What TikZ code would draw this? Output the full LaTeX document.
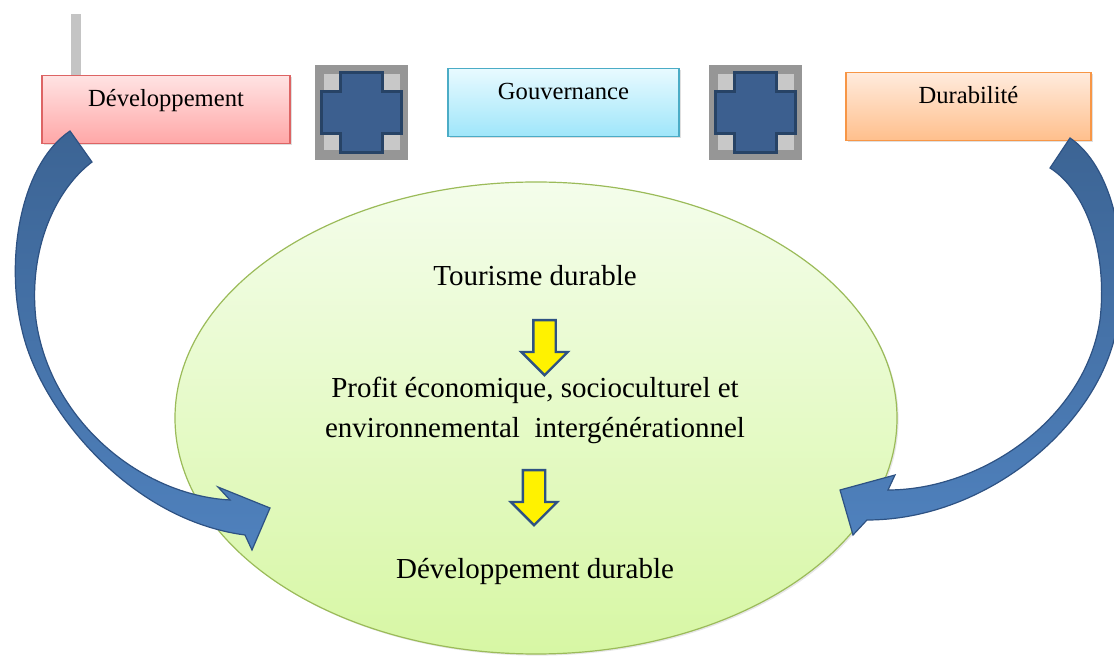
\documentclass[tikz,border=0pt]{standalone}
\usepackage{fontspec}
\setmainfont{Liberation Serif}
\usetikzlibrary{shapes.geometric,shapes.arrows,shadows}
\definecolor{bargray}{HTML}{C4C4C4}
\definecolor{devtop}{HTML}{FFE3E3}
\definecolor{devbot}{HTML}{FFA7A7}
\definecolor{devline}{HTML}{DD6464}
\definecolor{gouvtop}{HTML}{E8FAFF}
\definecolor{gouvbot}{HTML}{9FE6FA}
\definecolor{gouvline}{HTML}{4BACC6}
\definecolor{durtop}{HTML}{FFEBDD}
\definecolor{durbot}{HTML}{FFBF8C}
\definecolor{durline}{HTML}{F79646}
\definecolor{plusouter}{HTML}{969696}
\definecolor{plusinner}{HTML}{C8C8C8}
\definecolor{plusfill}{HTML}{3C5F8F}
\definecolor{plusline}{HTML}{274366}
\definecolor{ovaltop}{HTML}{F4FDEB}
\definecolor{ovalbot}{HTML}{D7F7A4}
\definecolor{ovalline}{HTML}{9BBB59}
\definecolor{arrdark}{HTML}{3C6494}
\definecolor{arrlight}{HTML}{4F81BD}
\definecolor{arrline}{HTML}{2E5283}

\begin{document}
\begin{tikzpicture}[x=0.5pt,y=-0.5pt]
    \tikzstyle{topbox}=[draw, line width=0.6pt, anchor=north, inner sep=0pt,
        text height=15.5pt, text depth=18.5pt,
        font=\fontsize{12.3}{15}\selectfont,
        drop shadow={shadow xshift=0.8pt, shadow yshift=-0.8pt, opacity=0.25}]
    \tikzstyle{plusbox}=[fill=plusouter, minimum width=46.5pt, minimum height=47.5pt, inner sep=0pt,
        path picture={
            \begin{scope}[shift={(path picture bounding box.center)}]
                \fill[plusinner] (-38,-38) rectangle (38,38);
                \draw[fill=plusfill, draw=plusline, line width=1.4pt]
                    (-21,-40) -- (21,-40) -- (21,-21) -- (40,-21) -- (40,21) -- (21,21)
                    -- (21,40) -- (-21,40) -- (-21,21) -- (-40,21) -- (-40,-21) -- (-21,-21) -- cycle;
            \end{scope}}]
    \tikzstyle{bluearrow}=[draw=arrline, line width=0.6pt, top color=arrdark, bottom color=arrlight]
    \tikzstyle{downarrow}=[single arrow, shape border rotate=270, draw=arrline, line width=1.2pt,
        fill=yellow, inner sep=5pt, minimum height=27.5pt, single arrow head extend=6pt, anchor=tail]
    \tikzstyle{ovaltext}=[font=\fontsize{14.5}{20}\selectfont, align=center, inner sep=0pt]

    \clip (0,0) rectangle (1114,657);
    \fill[bargray] (71,14) rectangle (81,76);

    \node (dev) [topbox, minimum width=124pt, top color=devtop, bottom color=devbot, draw=devline] at (166,75) {Développement};
    \node (gouv) [topbox, minimum width=115.5pt, top color=gouvtop, bottom color=gouvbot, draw=gouvline] at (563.5,68) {Gouvernance};
    \node (dur) [topbox, minimum width=122.5pt, top color=durtop, bottom color=durbot, draw=durline] at (968.5,72) {Durabilité};
    \node (plusa) [plusbox] at (361.5,112.5) {};
    \node (plusb) [plusbox] at (755.5,112.5) {};

    \node (oval) [ellipse, draw=ovalline, line width=0.6pt, top color=ovaltop, bottom color=ovalbot,
        minimum width=361pt, minimum height=236pt, inner sep=0pt,
        drop shadow={shadow xshift=0.8pt, shadow yshift=-0.8pt, opacity=0.2}] at (536,418) {};

    \draw[bluearrow] (70,131) .. controls (20,165) and (5,260) .. (22,330)
        .. controls (40,410) and (130,520) .. (245,535) -- (252,550) -- (270,508) -- (218,487) -- (230,500)
        .. controls (140,495) and (50,420) .. (36,320) .. controls (28,250) and (55,190) .. (92,162) -- cycle;
    \draw[bluearrow] (1070,138) .. controls (1110,165) and (1130,240) .. (1118,320)
        .. controls (1105,420) and (990,520) .. (867,520) -- (853,535) -- (840,490) -- (895,475) -- (888,490)
        .. controls (980,490) and (1085,420) .. (1100,320) .. controls (1108,250) and (1085,190) .. (1050,168) -- cycle;

    \node (tour) [ovaltext, anchor=base] at (535,286) {Tourisme durable};
    \node (profit) [ovaltext] at (535,410) {Profit économique, socioculturel et\\environnemental~~intergénérationnel};
    \node (devdur) [ovaltext, anchor=base] at (535,578) {Développement durable};
    \node (arra) [downarrow] at (544.5,319) {};
    \node (arrb) [downarrow] at (534,469) {};
\end{tikzpicture}
\end{document}
